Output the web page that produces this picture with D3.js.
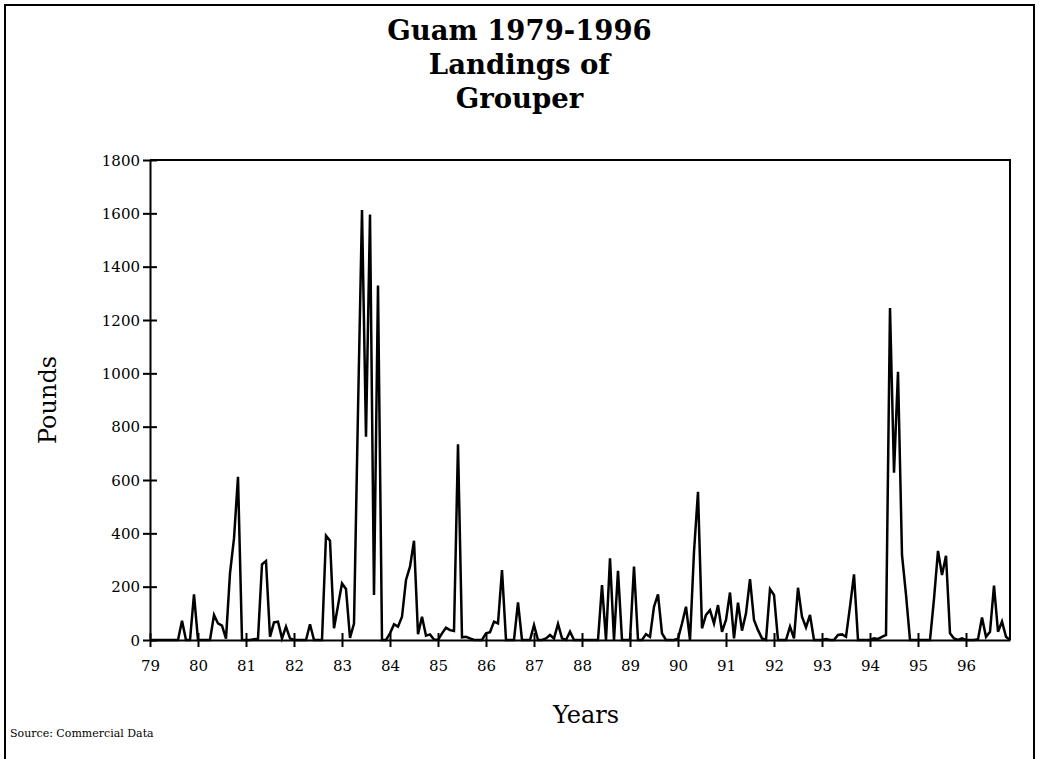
<!DOCTYPE html>
<html>
<head>
<meta charset="utf-8">
<script src="https://cdn.jsdelivr.net/npm/d3@7"></script>
<style>
  html, body { margin: 0; padding: 0; background: #fff; }
  svg { display: block; }
  text { font-family: "DejaVu Serif", "Liberation Serif", serif; fill: #000; }
</style>
</head>
<body>
<svg id="chart" width="1039" height="759"></svg>
<script>
// ---- data ----
const titleLines = ["Guam 1979-1996", "Landings of", "Grouper"];
const yearLabels = ["79","80","81","82","83","84","85","86","87","88","89","90","91","92","93","94","95","96"];
const yTicks = [0, 200, 400, 600, 800, 1000, 1200, 1400, 1600, 1800];
// monthly landings (pounds), Jan 1979 .. Dec 1996
const pounds1979 = [0, 0, 0, 0, 0, 0, 0, 0, 72, 0, 0, 171];
const pounds1980 = [0, 0, 0, 0, 94, 62, 54, 5, 250, 381, 612, 0];
const pounds1981 = [0, 0, 3, 5, 284, 296, 12, 66, 69, 6, 50, 6];
const pounds1982 = [0, 0, 0, 0, 59, 0, 0, 0, 391, 372, 44, 129];
const pounds1983 = [212, 191, 8, 62, 860, 1612, 762, 1596, 169, 1329, 0, 0];
const pounds1984 = [25, 59, 50, 87, 225, 275, 372, 22, 87, 16, 21, 2];
const pounds1985 = [0, 25, 46, 37, 34, 734, 10, 12, 6, 0, 0, 0];
const pounds1986 = [25, 29, 69, 62, 262, 0, 0, 0, 141, 0, 0, 0];
const pounds1987 = [56, 0, 0, 6, 19, 6, 60, 6, 0, 31, 0, 0];
const pounds1988 = [0, 0, 0, 0, 0, 206, 0, 306, 0, 259, 0, 0];
const pounds1989 = [0, 275, 0, 0, 22, 12, 125, 171, 25, 0, 0, 0];
const pounds1990 = [5, 62, 125, 0, 330, 556, 44, 94, 112, 62, 131, 31];
const pounds1991 = [75, 178, 6, 140, 35, 100, 228, 75, 37, 6, 0, 191];
const pounds1992 = [169, 0, 0, 0, 50, 6, 196, 87, 47, 94, 0, 0];
const pounds1993 = [0, 4, 0, 0, 19, 21, 12, 125, 246, 0, 0, 0];
const pounds1994 = [0, 6, 4, 12, 19, 1245, 627, 1006, 319, 170, 0, 0];
const pounds1995 = [0, 0, 0, 0, 154, 334, 244, 316, 25, 6, 0, 6];
const pounds1996 = [0, 0, 0, 3, 84, 12, 31, 204, 31, 69, 12, 0];
const sourceNote = "Source: Commercial Data";
const xTitle = "Years";
const yTitle = "Pounds";

const pounds = [].concat(pounds1979, pounds1980, pounds1981, pounds1982, pounds1983,
  pounds1984, pounds1985, pounds1986, pounds1987, pounds1988, pounds1989, pounds1990,
  pounds1991, pounds1992, pounds1993, pounds1994, pounds1995, pounds1996);

// ---- layout ----
const svg = d3.select("#chart");
const L = 150, R = 1010, T = 160, B = 640;

// outer frame
svg.append("rect")
  .attr("x", 5).attr("y", 5).attr("width", 1029).attr("height", 780)
  .attr("fill", "none").attr("stroke", "#000").attr("stroke-width", 2);

// title
svg.append("g").selectAll("text").data(titleLines).join("text")
  .attr("x", 519.5).attr("y", (d, i) => 40 + i * 34)
  .attr("text-anchor", "middle")
  .attr("font-weight", "bold").attr("font-size", 27.5)
  .text(d => d);

const x = d3.scaleLinear().domain([0, pounds.length - 1]).range([L, R]);
const y = d3.scaleLinear().domain([0, 1800]).range([B, T]);

// plot border (top & right)
svg.append("path")
  .attr("d", `M${L},${T}H${R}V${B}`)
  .attr("fill", "none").attr("stroke", "#000").attr("stroke-width", 2);

// y axis
const yAxis = d3.axisLeft(y).tickValues(yTicks).tickFormat(d3.format("d")).tickSize(0).tickPadding(10);
const gy = svg.append("g").attr("transform", `translate(${L},0)`).call(yAxis);
gy.select(".domain").attr("stroke", "#000").attr("stroke-width", 2);
gy.selectAll(".tick line").remove();
gy.selectAll(".tick").append("line")
  .attr("x1", -7).attr("x2", 7).attr("stroke", "#000").attr("stroke-width", 2);
gy.selectAll(".tick text").attr("font-family", "DejaVu Serif").attr("font-size", 15).attr("dy", "0.35em");

// x axis
const yearTickIdx = yearLabels.map((d, i) => i * 12);
const xAxis = d3.axisBottom(x).tickValues(yearTickIdx).tickFormat((d, i) => yearLabels[i])
  .tickSize(0).tickPadding(20);
const gx = svg.append("g").attr("transform", `translate(0,${B})`).call(xAxis);
gx.select(".domain").attr("stroke", "#000").attr("stroke-width", 2);
gx.selectAll(".tick line").remove();
gx.selectAll(".tick").append("line")
  .attr("y1", -7).attr("y2", 7).attr("stroke", "#000").attr("stroke-width", 2);
gx.selectAll(".tick text").attr("font-family", "DejaVu Serif").attr("font-size", 15);

// line
const line = d3.line().x((d, i) => x(i)).y(d => y(d));
svg.append("path").datum(pounds)
  .attr("d", line)
  .attr("fill", "none").attr("stroke", "#000").attr("stroke-width", 2.5)
  .attr("stroke-linejoin", "miter").attr("stroke-miterlimit", 4);

// axis titles
svg.append("text")
  .attr("x", 586).attr("y", 723)
  .attr("text-anchor", "middle").attr("font-size", 24)
  .text(xTitle);
svg.append("text")
  .attr("transform", "translate(56,400) rotate(-90)")
  .attr("text-anchor", "middle").attr("font-size", 24)
  .text(yTitle);

// source
svg.append("text")
  .attr("x", 10).attr("y", 737)
  .attr("font-size", 11)
  .text(sourceNote);
</script>
</body>
</html>
